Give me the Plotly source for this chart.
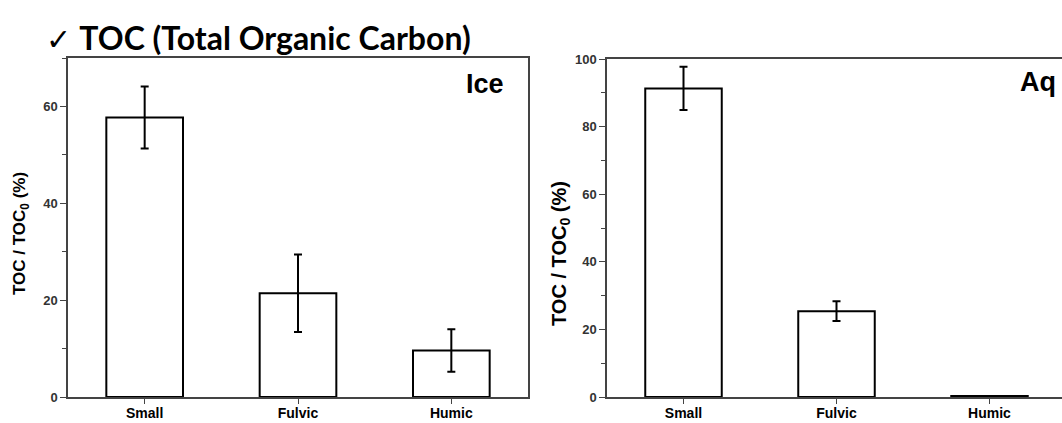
import plotly.graph_objects as go

W, H = 1062, 423

categories = ["Small", "Fulvic", "Humic"]
ice_values = [57.7, 21.4, 9.6]
ice_errors = [6.4, 8.0, 4.4]
aq_values = [91.3, 25.4, 0.3]
aq_errors = [6.4, 2.9, 0.0]
ice_yticks = [0, 20, 40, 60]
aq_yticks = [0, 20, 40, 60, 80, 100]

def px_x(p):
    return p / W

def px_y(p):
    return 1 - p / H

fig = go.Figure()

bar_style = dict(marker=dict(color="white", line=dict(color="black", width=2)), width=0.5,
                 showlegend=False)

fig.add_trace(go.Bar(x=list(range(len(categories))), y=ice_values,
                     error_y=dict(type="data", array=ice_errors, thickness=2, width=4, color="black"),
                     xaxis="x", yaxis="y", **bar_style))
fig.add_trace(go.Bar(x=list(range(len(categories))), y=aq_values,
                     error_y=dict(type="data", array=aq_errors, thickness=2, width=4, color="black"),
                     xaxis="x2", yaxis="y2", **bar_style))

axis_line = dict(showline=True, linecolor="#444", linewidth=1.5, showgrid=False, zeroline=False,
                 automargin=False)
ticktext = [f"<b>{c}</b>" for c in categories]
xfont = dict(family="Liberation Sans, Arial", size=14, color="black")
yfont = dict(family="Liberation Sans, Arial", size=13, color="#333", weight="bold")

fig.update_layout(
    width=W, height=H,
    template="none",
    margin=dict(l=0, r=0, t=0, b=0),
    paper_bgcolor="white", plot_bgcolor="white",
    xaxis=dict(domain=[px_x(68), px_x(528)], range=[-0.5, 2.5], tickmode="array",
               tickvals=[0, 1, 2], ticktext=ticktext, ticks="outside", ticklen=5,
               ticklabelstandoff=-3,
               tickcolor="#444", mirror=True, anchor="y", tickfont=xfont, **axis_line),
    yaxis=dict(domain=[px_y(397), px_y(58)], range=[0, 70], tickmode="array",
               tickvals=ice_yticks, ticks="outside", ticklen=6, tickcolor="#444",
               minor=dict(ticks="outside", ticklen=4, dtick=10, tickcolor="#444"),
               mirror=True, anchor="x", tickfont=yfont, **axis_line),
    xaxis2=dict(domain=[px_x(607), 1.0], range=[-0.5, -0.5 + 455 / 153], tickmode="array",
                tickvals=[0, 1, 2], ticktext=ticktext, ticks="outside", ticklen=5,
                ticklabelstandoff=-3,
                tickcolor="#444", mirror=True, anchor="y2", tickfont=xfont, **axis_line),
    yaxis2=dict(domain=[px_y(397), px_y(59)], range=[0, 100], tickmode="array",
                tickvals=aq_yticks, ticks="outside", ticklen=6, tickcolor="#444",
                minor=dict(ticks="outside", ticklen=4, dtick=10, tickcolor="#444"),
                mirror=False, anchor="x2", tickfont=yfont, **axis_line),
)

annotations = [
    dict(text="<span style='font-family:DejaVu Sans;font-weight:normal;font-size:30px'>✓</span> <b>TOC (Total Organic Carbon)</b>",
         x=px_x(44), y=px_y(37), xanchor="left", yanchor="middle",
         font=dict(family="Lato", size=32, color="black")),
    dict(text="<b>Ice</b>", x=px_x(506), y=px_y(84), xanchor="right", yanchor="middle",
         font=dict(family="Liberation Sans, Arial", size=27, color="black")),
    dict(text="<b>Aq</b>", x=px_x(1058), y=px_y(82), xanchor="right", yanchor="middle",
         font=dict(family="Liberation Sans, Arial", size=27, color="black")),
    dict(text="<b>TOC / TOC<sub>0</sub> (%)</b>", x=px_x(21), y=px_y(234), textangle=-90,
         xanchor="center", yanchor="middle",
         font=dict(family="Liberation Sans, Arial", size=17, color="black")),
    dict(text="<b>TOC / TOC<sub>0</sub> (%)</b>", x=px_x(560), y=px_y(254), textangle=-90,
         xanchor="center", yanchor="middle",
         font=dict(family="Liberation Sans, Arial", size=20, color="black")),
]
for a in annotations:
    a.update(xref="paper", yref="paper", showarrow=False)
fig.update_layout(annotations=annotations)

fig.write_html("out.html")
